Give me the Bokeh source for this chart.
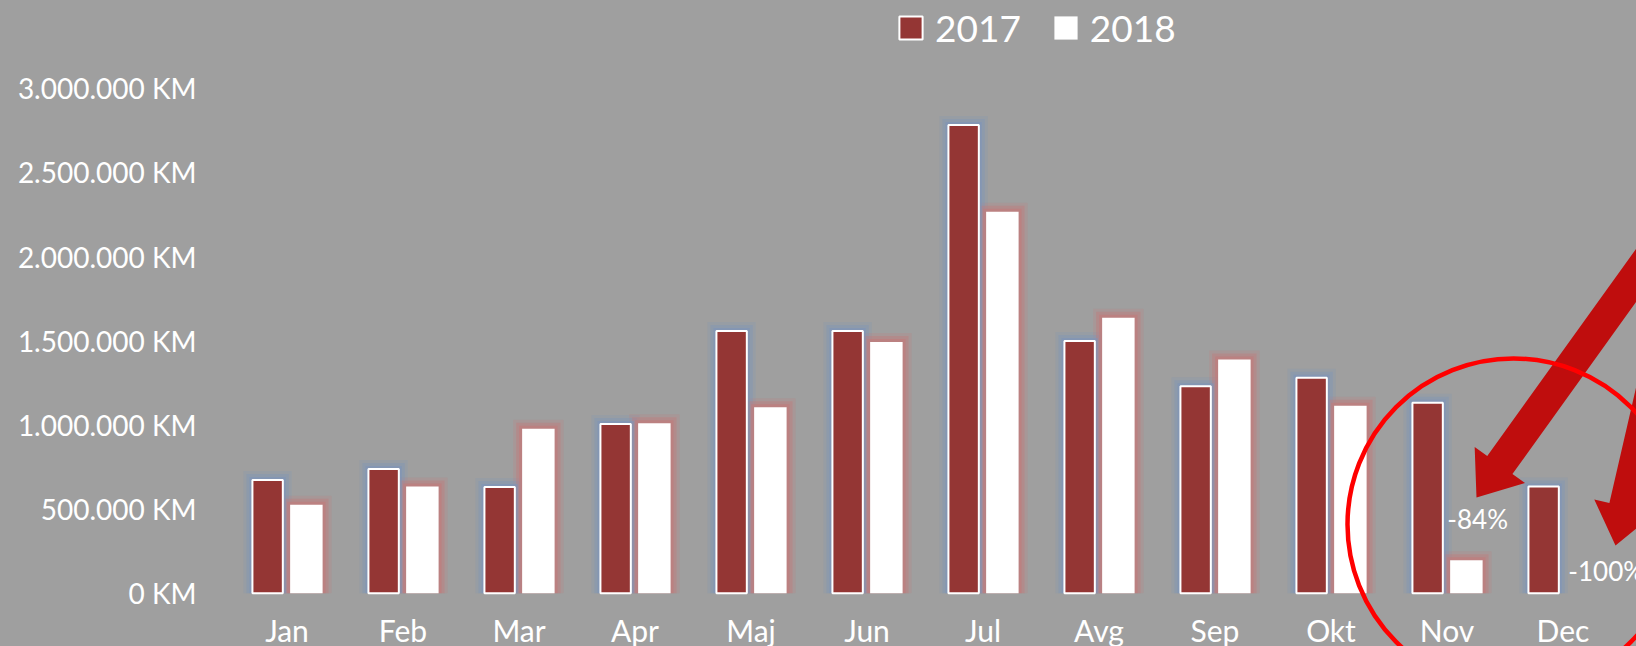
import numpy as np
from bokeh.plotting import figure
from bokeh.models import Range1d, FixedTicker, Legend, LegendItem
from bokeh.core.properties import value
from bokeh.embed import file_html
from bokeh.resources import INLINE

# ---------------- data ----------------
months = ["Jan", "Feb", "Mar", "Apr", "Maj", "Jun", "Jul", "Avg", "Sep", "Okt", "Nov", "Dec"]
series_names = ["2017", "2018"]
km_2017 = [672000, 738000, 631000, 1005000, 1558000, 1558000, 2782000, 1498000, 1230000, 1280000, 1132000, 634000]
km_2018 = [525000, 634000, 977000, 1010000, 1104000, 1492000, 2266000, 1637000, 1388000, 1114000, 196000, 0]
change_labels = ["", "", "", "", "", "", "", "", "", "", "-84%", "-100%"]
y_ticks = [0, 500000, 1000000, 1500000, 2000000, 2500000, 3000000]
y_tick_labels = ["0 KM", "500.000 KM", "1.000.000 KM", "1.500.000 KM",
                 "2.000.000 KM", "2.500.000 KM", "3.000.000 KM"]

# ---------------- layout / style ----------------
W, H = 1636, 646
BORDER_L = 228
FRAME_W = W - BORDER_L
X_LO, X_HI = -0.5043, 11.6336
Y_LO, Y_HI = -316600, 3521100
PXX = (X_HI - X_LO) / FRAME_W
PXY = (Y_HI - Y_LO) / H

BG = "#9f9f9f"
RED = "#943634"
ARROW = "#bf0d0d"
FONT = "Lato"
OFF = 0.167
W17, W18 = 0.262, 0.28

p = figure(width=W, height=H,
           x_range=Range1d(X_LO, X_HI), y_range=Range1d(Y_LO, Y_HI),
           x_axis_location=None,
           output_backend="svg", toolbar_location=None,
           min_border_left=BORDER_L, min_border_right=0,
           min_border_top=0, min_border_bottom=0,
           background_fill_color=BG, border_fill_color=BG,
           outline_line_color=None)
p.styles = {"background-color": BG}
p.xgrid.visible = False
p.ygrid.visible = False

# page-pixel helper ranges for the hand-drawn annotations
p.extra_x_ranges = {"px": Range1d(BORDER_L, W)}
p.extra_y_ranges = {"py": Range1d(H, 0)}

ya = p.yaxis[0]
ya.ticker = FixedTicker(ticks=y_ticks)
ya.major_label_overrides = {t: l for t, l in zip(y_ticks, y_tick_labels)}
ya.axis_line_color = None
ya.major_tick_line_color = None
ya.minor_tick_line_color = None
ya.major_tick_out = 0
ya.major_tick_in = 0
ya.major_label_standoff = 32
ya.major_label_text_font = FONT
ya.major_label_text_font_size = "28px"
ya.major_label_text_color = "white"

idx = np.arange(len(months))
v17 = np.array(km_2017, dtype=float)
v18 = np.array(km_2018, dtype=float)
x17 = idx - OFF
x18 = idx + OFF

# glow halos
for spread, alpha in [(9, 0.22), (6, 0.38), (3, 0.58)]:
    p.vbar(x=x17, bottom=0, top=np.where(v17 > 0, v17 + spread * PXY, 0),
           width=W17 + 2 * spread * PXX, fill_color="#7d95b8", fill_alpha=alpha, line_color=None)
    p.vbar(x=x18, bottom=0, top=np.where(v18 > 0, v18 + spread * PXY, 0),
           width=W18 + 2 * spread * PXX, fill_color="#c27a7a", fill_alpha=alpha, line_color=None)

r17 = p.vbar(x=x17, bottom=0, top=v17, width=W17, fill_color=RED,
             line_color="white", line_width=2)
r18 = p.vbar(x=x18, bottom=0, top=v18, width=W18, fill_color="white",
             line_color=None)

# month labels
p.text(x=idx, y=np.zeros(len(months)), text=months, y_offset=37,
       text_align="center", text_baseline="alphabetic",
       text_font=value(FONT), text_font_size="30px", text_color="white")

# arrows (annotation shapes, in page-pixel coordinates)
def arrow_poly(tip, angle_deg, head_len, head_half, shaft_half, length):
    a = np.radians(angle_deg)
    u = np.array([np.cos(a), -np.sin(a)])
    n = np.array([np.sin(a), np.cos(a)])
    t = np.array(tip, dtype=float)
    b = t + head_len * u
    e = t + length * u
    pts = [t, b + head_half * n, b + shaft_half * n, e + shaft_half * n,
           e - shaft_half * n, b - shaft_half * n, b - head_half * n]
    return [q[0] for q in pts], [q[1] for q in pts]

ax1, ay1 = arrow_poly((1476, 497), 54.3, 40, 31, 15.5, 450)
ax2, ay2 = arrow_poly((1615, 545), 77, 40, 31, 15.5, 450)
p.patches(xs=[ax1, ax2], ys=[ay1, ay2], fill_color=ARROW, line_color=None,
          x_range_name="px", y_range_name="py")

p.circle(x=[1513], y=[524], radius=166, radius_units="screen",
         fill_color=None, line_color="#ff0000", line_width=4.5,
         x_range_name="px", y_range_name="py")

# change labels
sel = [i for i, l in enumerate(change_labels) if l]
label_dx = [-19, -14]
label_dy = [-41, -22]
p.text(x=[i + OFF for i in sel], y=[km_2018[i] for i in sel],
       text=[change_labels[i] for i in sel], x_offset=label_dx, y_offset=label_dy,
       text_align="left", text_baseline="middle",
       text_font=value(FONT), text_font_size="26px", text_color="white")

legend = Legend(items=[LegendItem(label=series_names[0], renderers=[r17]),
                       LegendItem(label=series_names[1], renderers=[r18])],
                orientation="horizontal", location=(668, 596),
                background_fill_alpha=0, border_line_color=None,
                glyph_width=29, glyph_height=29, label_standoff=10, spacing=30,
                padding=0, margin=0,
                label_text_font=FONT, label_text_font_size="37px",
                label_text_color="white")
p.add_layout(legend)

open("out.html", "w").write(file_html(p, INLINE))
